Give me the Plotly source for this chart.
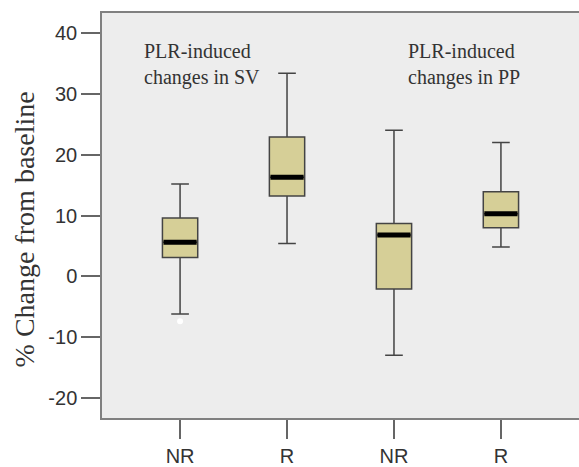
import plotly.graph_objects as go

# Data
groups = ["NR", "R", "NR", "R"]
positions = [0, 1, 2, 3]
q1 = [3.1, 13.2, -2.1, 8.0]
median = [5.6, 16.3, 6.8, 10.3]
q3 = [9.6, 22.9, 8.7, 13.9]
lower = [-6.2, 5.4, -13.0, 4.8]
upper = [15.2, 33.4, 24.0, 22.0]
outlier_x = [0]
outlier_y = [-7.4]
y_ticks = [-20, -10, 0, 10, 20, 30, 40]
y_tick_labels = [str(v) for v in y_ticks]

BOX_W = 0.33
fig = go.Figure()
for i in range(len(groups)):
    fig.add_trace(go.Box(
        x=[positions[i]], q1=[q1[i]], median=[median[i]], q3=[q3[i]],
        lowerfence=[lower[i]], upperfence=[upper[i]],
        width=BOX_W, whiskerwidth=0.5, boxpoints=False,
        fillcolor="#d6cf97", line=dict(color="#444444", width=1.5),
        showlegend=False, hoverinfo="skip",
    ))
    # thick median bar
    fig.add_trace(go.Scatter(
        x=[positions[i] - BOX_W / 2 + 0.01, positions[i] + BOX_W / 2 - 0.01],
        y=[median[i], median[i]], mode="lines",
        line=dict(color="black", width=5), showlegend=False, hoverinfo="skip",
    ))

fig.add_trace(go.Scatter(
    x=outlier_x, y=outlier_y, mode="markers",
    marker=dict(color="white", size=6, line=dict(width=0)),
    showlegend=False, hoverinfo="skip",
))

fig.update_layout(
    width=579, height=467,
    margin=dict(l=102, r=0, t=13, b=44),
    paper_bgcolor="white", plot_bgcolor="#ededed",
    font=dict(family="Liberation Sans, Arial", size=20, color="#333333"),
    xaxis=dict(
        range=[-0.73, 3.73], tickvals=positions, ticktext=groups,
        showgrid=False, zeroline=False, showline=True, mirror=True,
        linecolor="#808080", linewidth=1.5,
        ticks="outside", ticklen=19, tickwidth=1.5, tickcolor="#666666",
    ),
    yaxis=dict(
        range=[-23.3, 43.3], tickvals=y_ticks, ticktext=y_tick_labels,
        showgrid=False, zeroline=False, showline=True, mirror=False,
        linecolor="#808080", linewidth=1.5,
        ticks="outside", ticklen=19, tickwidth=1.5, tickcolor="#666666",
    ),
    annotations=[
        dict(text="PLR-induced<br>changes in SV", xref="x", yref="y",
             x=-0.36, y=34.8, xanchor="left", yanchor="middle", align="left",
             showarrow=False,
             font=dict(family="Liberation Serif, Times New Roman", size=20, color="#333333")),
        dict(text="PLR-induced<br>changes in PP", xref="x", yref="y",
             x=2.11, y=34.8, xanchor="left", yanchor="middle", align="left",
             showarrow=False,
             font=dict(family="Liberation Serif, Times New Roman", size=20, color="#333333")),
        dict(text="% Change from baseline", xref="paper", yref="paper",
             x=-0.162, y=0.465, xanchor="center", yanchor="middle",
             textangle=-90, showarrow=False,
             font=dict(family="Liberation Serif, Times New Roman", size=28, color="#333333")),
    ],
)

fig.write_html("out.html", config={"displayModeBar": False},
               post_script="document.body.style.margin='0';document.body.style.overflow='hidden';")
